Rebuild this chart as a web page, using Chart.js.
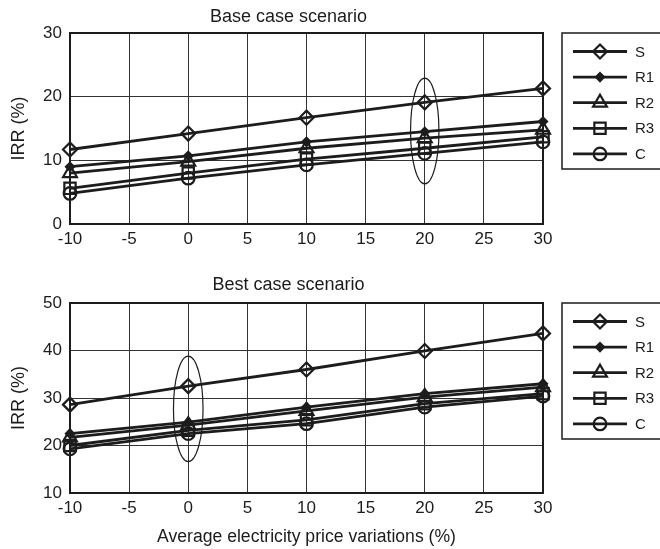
<!DOCTYPE html>
<html>
<head>
<meta charset="utf-8">
<script src="https://cdn.jsdelivr.net/npm/chart.js@4.4.1/dist/chart.umd.min.js"></script>
<style>
  html, body { margin: 0; padding: 0; background: #fff; }
  #wrap { position: relative; width: 660px; height: 549px; overflow: hidden; }
  #c1 { position: absolute; left: 0; top: 0; }
  #c2 { position: absolute; left: 0; top: 270px; }
</style>
</head>
<body>
<div id="wrap">
  <canvas id="c1" width="660" height="260"></canvas>
  <canvas id="c2" width="660" height="279"></canvas>
</div>
<script>
// Electricity price variation (%) on the x axis
const priceVariations = [-10, 0, 10, 20, 30];
const xTicks = [-10, -5, 0, 5, 10, 15, 20, 25, 30];

// IRR (%) per strategy, base case
const baseS  = [11.7, 14.2, 16.7, 19.1, 21.3];
const baseR1 = [9.0, 10.7, 12.9, 14.5, 16.1];
const baseR2 = [8.0, 9.8, 11.9, 13.5, 14.8];
const baseR3 = [5.6, 8.0, 10.2, 11.9, 13.7];
const baseC  = [4.8, 7.2, 9.3, 11.1, 12.9];

// IRR (%) per strategy, best case
const bestS  = [28.6, 32.5, 36.0, 39.9, 43.6];
const bestR1 = [22.5, 24.9, 28.1, 30.9, 33.0];
const bestR2 = [21.7, 24.3, 27.3, 30.2, 32.3];
const bestR3 = [20.0, 23.2, 25.4, 28.8, 30.9];
const bestC  = [19.3, 22.5, 24.6, 28.1, 30.4];

const seriesNames = ['S', 'R1', 'R2', 'R3', 'C'];
const ink = '#1c1c1c';
const fontFamily = '"Liberation Sans", Arial, sans-serif';

// marker style for each strategy
const markerStyles = [
  { pointStyle: 'rectRot',  radius: 7,   fill: 'rgba(0,0,0,0)' },
  { pointStyle: 'rectRot',  radius: 4,   fill: ink },
  { pointStyle: 'triangle', radius: 8,   fill: 'rgba(0,0,0,0)' },
  { pointStyle: 'rect',     radius: 8,   fill: 'rgba(0,0,0,0)' },
  { pointStyle: 'circle',   radius: 6.3, fill: 'rgba(0,0,0,0)' }
];

function buildDatasets(seriesList) {
  return seriesList.map((vals, i) => ({
    label: seriesNames[i],
    data: priceVariations.map((x, j) => ({ x: x, y: vals[j] })),
    borderColor: ink,
    borderWidth: 2.8,
    pointStyle: markerStyles[i].pointStyle,
    pointRadius: markerStyles[i].radius,
    pointBackgroundColor: markerStyles[i].fill,
    pointBorderColor: ink,
    pointBorderWidth: 2.2,
    clip: false,
    tension: 0
  }));
}

// nudge the chart title a little to the right of the default centre
const titleShiftPlugin = {
  id: 'titleShift',
  afterLayout(chart) {
    const t = chart.titleBlock;
    if (t) { t.left += 17; t.right += 17; }
  }
};

// boxed legend to the right of the plot, plus the frame and a highlight ellipse
const framePlugin = {
  id: 'frameAndLegend',
  afterDraw(chart, args, opts) {
    const ctx = chart.ctx;
    const a = chart.chartArea;
    ctx.save();
    // plot frame
    ctx.strokeStyle = ink;
    ctx.lineWidth = 2;
    ctx.strokeRect(a.left, a.top, a.right - a.left, a.bottom - a.top);

    // highlight ellipse in data coordinates
    const e = opts.ellipse;
    if (e) {
      const xs = chart.scales.x, ys = chart.scales.y;
      const cx = xs.getPixelForValue(e.x);
      const rx = Math.abs(xs.getPixelForValue(e.x + e.halfWidth) - cx);
      const y1 = ys.getPixelForValue(e.yMin), y2 = ys.getPixelForValue(e.yMax);
      ctx.beginPath();
      ctx.lineWidth = 1.2;
      ctx.ellipse(cx, (y1 + y2) / 2, rx, Math.abs(y1 - y2) / 2, 0, 0, Math.PI * 2);
      ctx.stroke();
    }

    // legend box
    const boxLeft = 562, boxTop = a.top, boxBottom = a.top + 136;
    ctx.lineWidth = 1.5;
    ctx.strokeRect(boxLeft, boxTop, 120, boxBottom - boxTop);
    ctx.font = '15px ' + fontFamily;
    ctx.textBaseline = 'middle';
    ctx.textAlign = 'left';
    ctx.fillStyle = ink;
    chart.data.datasets.forEach((ds, i) => {
      const y = boxTop + 18.5 + i * 25.6;
      ctx.beginPath();
      ctx.lineWidth = 2.8;
      ctx.strokeStyle = ink;
      ctx.moveTo(573, y);
      ctx.lineTo(627, y);
      ctx.stroke();
      ctx.lineWidth = 2.2;
      ctx.fillStyle = ds.pointBackgroundColor;
      Chart.helpers.drawPoint(ctx, { pointStyle: ds.pointStyle, radius: ds.pointRadius, rotation: 0, borderWidth: 2.2 }, 600, y);
      ctx.fillStyle = ink;
      ctx.fillText(ds.label, 635, y + 1);
    });
    ctx.restore();
  }
};

function makeChart(canvasId, cfg) {
  return new Chart(document.getElementById(canvasId), {
    type: 'line',
    data: { datasets: buildDatasets(cfg.series) },
    plugins: [titleShiftPlugin, framePlugin],
    options: {
      responsive: false,
      animation: false,
      layout: { padding: { left: 0, right: 117, top: 0, bottom: 0 } },
      plugins: {
        legend: { display: false },
        tooltip: { enabled: false },
        title: {
          display: true,
          text: cfg.title,
          color: ink,
          font: { family: fontFamily, size: 18, weight: 'normal' },
          padding: cfg.titlePadding
        },
        frameAndLegend: { ellipse: cfg.ellipse }
      },
      scales: {
        x: {
          type: 'linear',
          min: -10, max: 30,
          afterBuildTicks: (s) => { s.ticks = xTicks.map(v => ({ value: v })); },
          afterFit: (s) => { s.height = cfg.xHeight; },
          grid: { color: '#333', lineWidth: 1, drawTicks: false },
          border: { display: false },
          ticks: {
            color: ink, padding: 5,
            font: { family: fontFamily, size: 17 },
            maxRotation: 0
          },
          title: {
            display: !!cfg.xTitle,
            text: cfg.xTitle || '',
            color: ink,
            font: { family: fontFamily, size: 17.6 },
            padding: { top: 0, bottom: 1 }
          }
        },
        y: {
          min: cfg.yMin, max: cfg.yMax,
          afterBuildTicks: (s) => { s.ticks = cfg.yTicks.map(v => ({ value: v })); },
          afterFit: (s) => { s.width = 70; },
          grid: { color: '#333', lineWidth: 1, drawTicks: false },
          border: { display: false },
          ticks: {
            color: ink, padding: 8,
            font: { family: fontFamily, size: 17 }
          },
          title: {
            display: true,
            text: 'IRR (%)',
            color: ink,
            font: { family: fontFamily, size: 18 },
            padding: { top: 8, bottom: 0 }
          }
        }
      }
    }
  });
}

makeChart('c1', {
  title: 'Base case scenario',
  titlePadding: { top: 6, bottom: 5.4 },
  series: [baseS, baseR1, baseR2, baseR3, baseC],
  yMin: 0, yMax: 30, yTicks: [0, 10, 20, 30],
  xHeight: 36,
  ellipse: { x: 20, halfWidth: 1.2, yMin: 6.3, yMax: 22.9 }
});

makeChart('c2', {
  title: 'Best case scenario',
  titlePadding: { top: 4, bottom: 7.4 },
  series: [bestS, bestR1, bestR2, bestR3, bestC],
  yMin: 10, yMax: 50, yTicks: [10, 20, 30, 40, 50],
  xHeight: 56,
  xTitle: 'Average electricity price variations (%)',
  ellipse: { x: 0, halfWidth: 1.25, yMin: 16.6, yMax: 38.8 }
});
</script>
</body>
</html>
